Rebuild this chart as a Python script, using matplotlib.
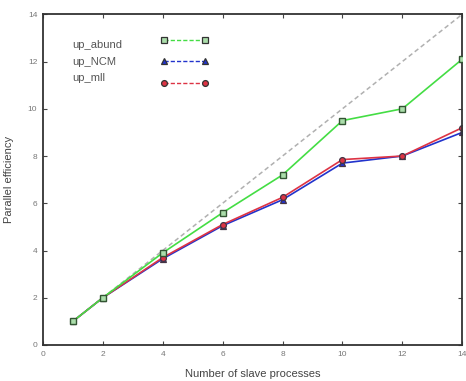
import matplotlib
matplotlib.use("Agg")
import matplotlib.pyplot as plt
from matplotlib.lines import Line2D

procs = [1, 2, 4, 6, 8, 10, 12, 14]
up_abund = [1.0, 2.0, 3.9, 5.6, 7.2, 9.5, 10.0, 12.1]
up_NCM = [1.0, 2.0, 3.65, 5.05, 6.15, 7.7, 8.0, 9.0]
up_mll = [1.0, 2.0, 3.7, 5.1, 6.25, 7.85, 8.0, 9.2]
ideal_x = [1, 14]
ideal_y = [1, 14]
xticks = [0, 2, 4, 6, 8, 10, 12, 14]
yticks = [0, 2, 4, 6, 8, 10, 12, 14]

plt.rcParams['font.family'] = ['Liberation Sans', 'DejaVu Sans']
fig = plt.figure(figsize=(4.66, 3.81), dpi=100)
ax = fig.add_axes([0.092, 0.0945, 0.900, 0.868])

ax.plot(ideal_x, ideal_y, color='#b0b0b0', linestyle=(0, (3, 2)), linewidth=1.1, zorder=1)

series = [
    ("up_abund", up_abund, '#44dd44', 's'),
    ("up_NCM", up_NCM, '#2233cc', '^'),
    ("up_mll", up_mll, '#dd3344', 'o'),
]
for name, vals, col, mk in series[1:]:
    ax.plot(procs, vals, color=col, linewidth=1.2, marker=mk, markersize=4.2,
            markerfacecolor=col, markeredgecolor='#443344', markeredgewidth=0.9, zorder=2)

ax.plot(procs, up_abund, color='#44dd44', linewidth=1.2, marker='s', markersize=4.5,
        markerfacecolor='#aaddaa', markeredgecolor='#335533', markeredgewidth=1.0, zorder=3)

ax.set_xlim(0, 14)
ax.set_ylim(0, 14)
ax.set_xticks(xticks)
ax.set_yticks(yticks)
ax.tick_params(direction='in', top=True, right=True, length=3, labelsize=6,
               labelcolor='#777777', color='#444444', pad=4)
for s in ax.spines.values():
    s.set_linewidth(1.3)
    s.set_color('#333333')
ax.set_xlabel("Number of slave processes", fontsize=8, color='#444444', labelpad=8)
ax.set_ylabel("Parallel efficiency", fontsize=8, color='#444444', labelpad=10)

label_y = [0.906, 0.855, 0.807]
handle_y = [0.921, 0.858, 0.792]
for (name, vals, col, mk), ty, hy in zip(series, label_y, handle_y):
    ax.text(0.071, ty, name, transform=ax.transAxes, fontsize=8, color='#555555', va='center')
    ln = Line2D([0.29, 0.386], [hy, hy], transform=ax.transAxes, color=col,
                linestyle=(0, (3, 1.5)), linewidth=1.0, marker=mk, markersize=4.2,
                markerfacecolor=col if mk != 's' else '#aaddaa', markeredgecolor='#333333',
                markeredgewidth=0.9)
    ax.add_line(ln)

fig.savefig("out.png", dpi=100)
